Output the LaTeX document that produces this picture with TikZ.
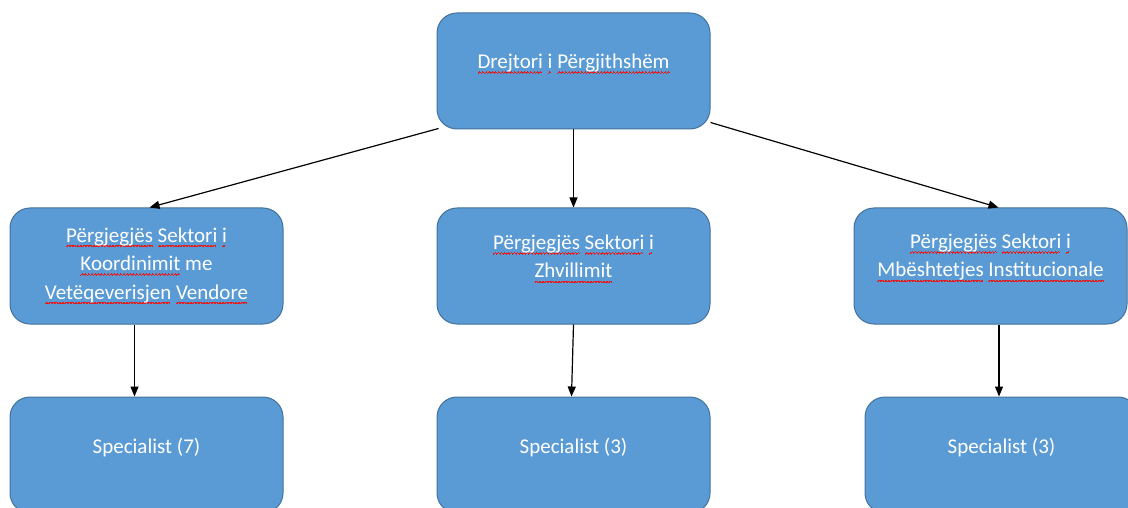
\documentclass[tikz,border=0pt]{standalone}
\usepackage{fontspec}
\setmainfont{Carlito}
\usetikzlibrary{arrows.meta}
\definecolor{boxfill}{HTML}{5B9BD5}
\definecolor{boxline}{HTML}{41719C}
\definecolor{squig}{HTML}{E02020}
\newlength\sqw
\newcommand\wavecell{\hbox{\rule[-5.4pt]{0.8pt}{1.3pt}\rule[-4.7pt]{0.8pt}{1.3pt}\rule[-4pt]{0.8pt}{1.3pt}\rule[-4.7pt]{0.8pt}{1.3pt}}}
\newcommand\sq[1]{\settowidth\sqw{#1}\rlap{\textcolor{squig}{\leaders\wavecell\hskip\sqw}}#1}
\tikzset{
  orgbox/.style={draw=boxline, fill=boxfill, line width=1pt, rounded corners=20pt,
    minimum width=273pt, minimum height=116pt, inner sep=0pt},
  lbl/.style={text=white, align=center, font=\fontsize{21}{28.5}\selectfont, inner sep=0pt},
  conn/.style={line width=1.2pt, -{Triangle[length=10pt,width=8pt]}}
}
\begin{document}
\begin{tikzpicture}[x=1pt,y=-1pt]
\useasboundingbox (0,0) rectangle (1128,508);
\clip (0,0) rectangle (1128,508);
\node[orgbox] (top) at (573.5,71) {};
\node[orgbox] (l1) at (146.5,266) {};
\node[orgbox] (c1) at (573.5,266) {};
\node[orgbox] (r1) at (990.5,266) {};
\node[orgbox] (l2) at (146.5,455) {};
\node[orgbox] (c2) at (573.5,455) {};
\node[orgbox] (r2) at (1001.5,455) {};

\node[lbl] (ttop) at ([yshift=7pt]top.center) {\sq{Drejtori} \sq{i} \sq{Përgjithshëm}};
\node[lbl] (tl1) at ([yshift=0pt]l1.center) {\sq{Përgjegjës} \sq{Sektori} \sq{i}\\\sq{Koordinimit} me\\\sq{Vetëqeverisjen} \sq{Vendore}};
\node[lbl] (tc1) at ([yshift=7pt]c1.center) {\sq{Përgjegjës} \sq{Sektori} \sq{i}\\\sq{Zhvillimit}};
\node[lbl] (tr1) at ([yshift=8pt]r1.center) {\sq{Përgjegjës} \sq{Sektori} \sq{i}\\\sq{Mbështetjes} \sq{Institucionale}};
\node[lbl] (tl2) at ([yshift=7pt]l2.center) {Specialist (7)};
\node[lbl] (tc2) at ([yshift=7pt]c2.center) {Specialist (3)};
\node[lbl] (tr2) at ([yshift=7pt]r2.center) {Specialist (3)};

\draw[conn] ([xshift=2pt,yshift=1pt]top.south west) -- ([xshift=3pt]l1.north);
\draw[conn] (top.south) -- (c1.north);
\draw[conn] ([yshift=7pt]top.south east) -- ([xshift=8pt]r1.north);
\draw[conn] ([xshift=-12pt]l1.south) -- ([xshift=-12pt]l2.north);
\draw[conn] (c1.south) -- ([xshift=-2pt]c2.north);
\draw[conn] ([xshift=8.5pt]r1.south) -- ([xshift=-2.5pt]r2.north);
\end{tikzpicture}
\end{document}
